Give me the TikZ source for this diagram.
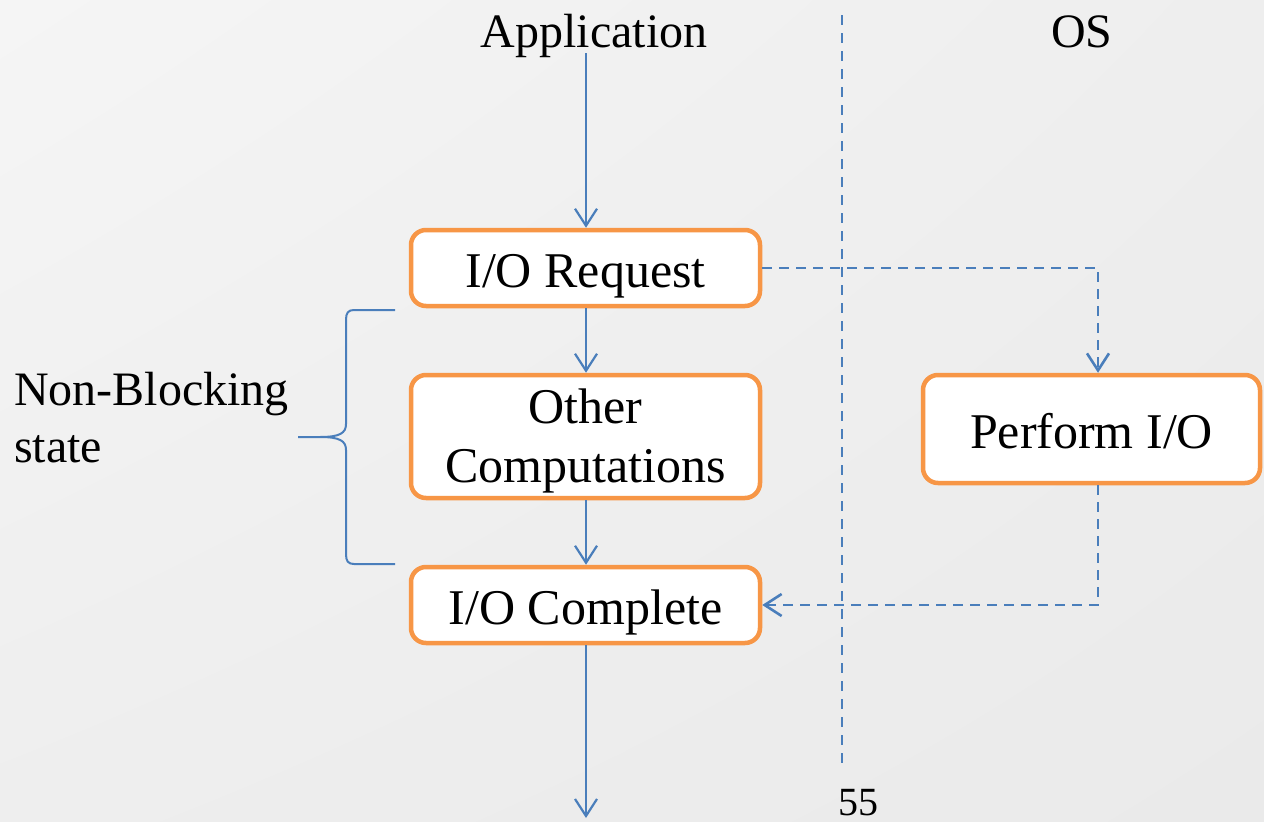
\documentclass[tikz,border=0pt]{standalone}
\usepackage{fontspec}
\setmainfont{Liberation Serif}
\usetikzlibrary{arrows.meta,calc,shadings}
\definecolor{boxorange}{HTML}{F79646}
\definecolor{flowblue}{HTML}{4A7EBB}
\definecolor{bglight}{HTML}{F5F5F5}
\definecolor{bgmid}{HTML}{EEEEEE}
\definecolor{bgdark}{HTML}{EAEAEA}
\begin{document}
\begin{tikzpicture}[x=1pt,y=-1pt,
  stepbox/.style={draw=boxorange, line width=4.5pt, fill=white,
    rounded corners=15pt, font=\fontsize{50}{59}\selectfont,
    inner sep=0pt, text height=38pt, text depth=0pt},
  label/.style={font=\fontsize{48}{57}\selectfont, inner sep=0pt, anchor=base},
  flow/.style={draw=flowblue, line width=2.2pt,
    -{Straight Barb[length=17pt,width=22pt]}},
  async/.style={draw=flowblue, line width=2.6pt, dash pattern=on 10pt off 7pt,
    -{Straight Barb[length=17pt,width=22pt]}},
  divider/.style={draw=flowblue, line width=2.6pt, dash pattern=on 10pt off 8pt},
]
% background
\useasboundingbox (0,0) rectangle (1264,822);
\clip (0,0) rectangle (1264,822);
\shade[upper left=bglight, upper right=bgmid, lower left=bgmid, lower right=bgdark]
  (0,0) rectangle (1264,822);

% column headings
\node[label] (app) at (594,47) {Application};
\node[label] (os) at (1082,47) {OS};

% application / OS divider
\coordinate (divtop) at (842,15);
\coordinate (divbot) at (842,765);
\draw[divider] (divtop) -- (divbot);

% flow boxes
\node[stepbox, minimum width=349pt, minimum height=76pt] (req) at (585.5,268) {I/O Request};
\node[stepbox, minimum width=349pt, minimum height=123pt, text height=40pt, text depth=67pt]
  (other) at (585.5,436.5) {\begin{tabular}[t]{@{}c@{}}Other\\Computations\end{tabular}};
\node[stepbox, minimum width=349pt, minimum height=76pt] (done) at (585.5,605) {I/O Complete};
\node[stepbox, minimum width=337pt, minimum height=108pt] (perf) at (1091.5,429) {Perform I/O};

% application flow
\coordinate (start) at (586,53);
\coordinate (finish) at (586,818);
\draw[flow] (start) -- (start |- req.north);
\draw[flow] (req.south -| start) -- (other.north -| start);
\draw[flow] (other.south -| start) -- (done.north -| start);
\draw[flow] (done.south -| start) -- (finish);

% OS side requests
\coordinate (oscol) at (1098,0);
\draw[async] (req.east) -| (oscol |- perf.north);
\draw[async] (oscol |- perf.south) |- (done.east);

% brace for the non-blocking region
\coordinate (btop) at (395,310);
\coordinate (bbot) at (395,564);
\coordinate (btip) at (298,437);
\draw[flowblue, line width=2pt]
  (btop) -- (354,310) .. controls (348,310) and (346,313) .. (346,320)
  -- (346,424) .. controls (346,433) and (340,437) .. (320,437) -- (btip)
  (btip) -- (320,437) .. controls (340,437) and (346,441) .. (346,450)
  -- (346,554) .. controls (346,561) and (348,564) .. (354,564) -- (bbot);

% brace label
\node[label, anchor=base west] (nb1) at (14,405) {Non-Blocking};
\node[label, anchor=base west] (nb2) at (14,462) {state};

% page number
\node[font=\fontsize{40}{48}\selectfont, inner sep=0pt, anchor=base] (page) at (858,815) {55};
\end{tikzpicture}
\end{document}
